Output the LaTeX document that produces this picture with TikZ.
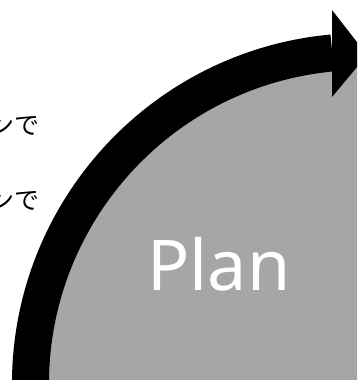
\documentclass[tikz,border=0pt]{standalone}
\usepackage{fontspec}
\setmainfont{Noto Sans}
\newfontfamily\jpfont{Noto Sans CJK JP}
\usepackage{tikz}
\definecolor{plangray}{HTML}{A6A6A6}

\begin{document}
\begin{tikzpicture}[
  x=1pt,y=1pt,
  cycle/.style={line width=37pt,draw=black},
  head/.style={fill=black},
  stage/.style={text=white,inner sep=0pt,font=\fontsize{70}{72}\selectfont},
  note/.style={inner sep=0pt,font=\jpfont\fontsize{25}{27}\selectfont}
]
\useasboundingbox (0,0) rectangle (357,380);
\clip (0,0) rectangle (357,380);
\coordinate (c) at (363,-4);
% gray disc and the arrow round it
\fill[plangray] (c) circle[radius=333];
\draw[cycle] (c) ++(185:332.5) arc[start angle=185,end angle=95.3,radius=332.5] coordinate (end);
\fill[head] (332,370) -- (367,325) -- (332,283) -- cycle;
\node[stage,anchor=base] (plan) at (219,89) {Plan};
\node[note,anchor=base east] (line1) at (40,245) {ンで};
\node[note,anchor=base east] (line2) at (40,170) {ンで};
\end{tikzpicture}
\end{document}
